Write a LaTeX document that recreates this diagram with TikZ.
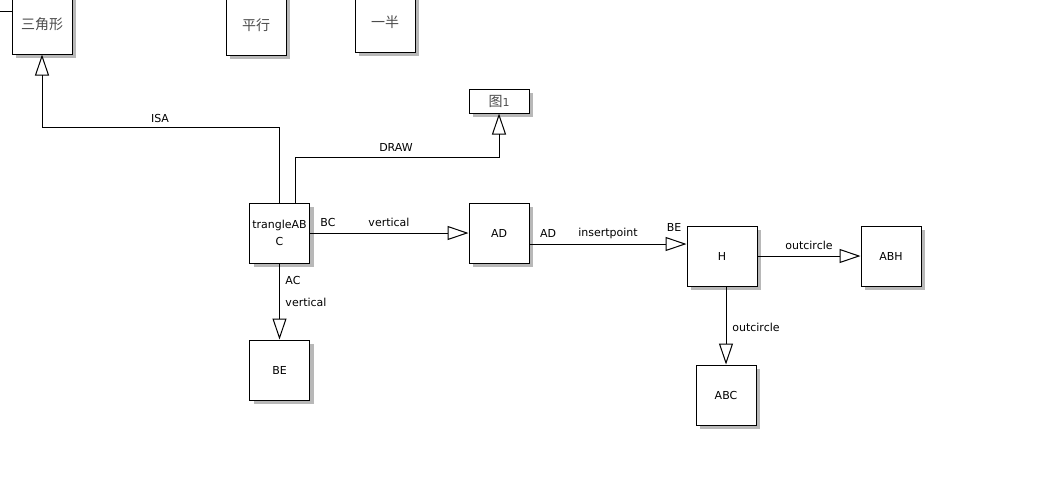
\documentclass[tikz,border=0pt]{standalone}
\usepackage{fontspec}
\setmainfont{DejaVu Sans}
\newfontfamily\cjk{Noto Sans CJK SC}
\usetikzlibrary{arrows.meta,shadows}
\begin{document}
\begin{tikzpicture}[x=1pt,y=-1pt,
  cls/.style={draw, fill=white, line width=1pt, inner sep=0pt, minimum width=60pt, minimum height=60pt, align=center,
    font=\fontsize{11}{17}\selectfont,
    general shadow={fill=black!28, shadow xshift=4pt, shadow yshift=-4pt}},
  zh/.style={font=\cjk\fontsize{14}{16}\selectfont, text=black!70},
  rel/.style={draw, line width=1pt, -{Triangle[open,length=21pt,width=14pt]}},
  lbl/.style={inner sep=0pt, font=\fontsize{11}{13}\selectfont}]
\useasboundingbox (0,0) rectangle (1061,483);
\clip (0,0) rectangle (1061,483);
\node[cls, zh] (tri) at (42,24){三角形};
\node[cls, zh] (par) at (256,25){平行};
\node[cls, zh] (half) at (385,22){一半};
\node[cls, zh, minimum height=24pt] (fig) at (499,101){图\fontspec{DejaVu Sans}\fontsize{11}{13}\selectfont 1};
\node[cls] (tabc) at (279.5,233){trangleAB\\C};
\node[cls] (ad) at (499,233){AD};
\node[cls] (be) at (279.5,370){BE};
\node[cls, minimum width=70pt] (h) at (722,256){H};
\node[cls] (abh) at (891,256){ABH};
\node[cls] (abc) at (726,395){ABC};
\coordinate (tin) at (0,11);
\draw[line width=1pt](tin) -- (tri.west |- tin);
\draw[rel](tabc.north) -- ++(0,-75) -| (tri.south);
\node[lbl] (lisa) at (160,118){ISA};
\draw[rel]([xshift=15.5pt]tabc.north) -- ++(0,-45) -| (fig.south);
\node[lbl] (ldraw) at (396,147){DRAW};
\draw[rel](tabc.east) -- (ad.west);
\node[lbl] (lbc) at (328,222){BC};
\node[lbl] (lvert) at (389,222){vertical};
\draw[rel](tabc.south) -- (be.north);
\node[lbl] (lac) at (293,280){AC};
\node[lbl] (lvertb) at (306,302){vertical};
\draw[rel]([yshift=-11pt]ad.east) -- ([yshift=12pt]h.west);
\node[lbl] (lad) at (548,233){AD};
\node[lbl] (lins) at (608,233){insertpoint};
\node[lbl] (lbe) at (674,227){BE};
\draw[rel](h.east) -- (abh.west);
\node[lbl] (lout) at (809,245){outcircle};
\draw[rel](h.south -| abc.north) -- (abc.north);
\node[lbl] (loutb) at (756,327){outcircle};
\end{tikzpicture}
\end{document}
